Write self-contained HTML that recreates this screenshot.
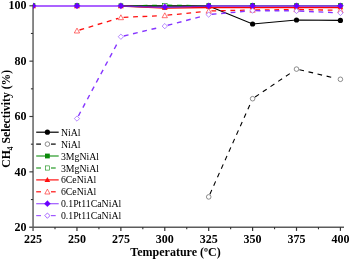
<!DOCTYPE html>
<html lang="en"><head><meta charset="utf-8"><title>CH4 Selectivity vs Temperature</title>
<style>html,body{margin:0;padding:0;background:#fff}body{width:350px;height:260px;overflow:hidden}</style></head>
<body>
<svg width="350" height="260" viewBox="0 0 350 260" style="display:block">
<rect width="350" height="260" fill="#fff"/>
<line x1="33.05" y1="4.6" x2="33.05" y2="230.9" stroke="#5c5c5c" stroke-width="1.45"/>
<line x1="29.2" y1="227.2" x2="344" y2="227.2" stroke="#5c5c5c" stroke-width="1.45"/>
<clipPath id="c"><rect x="32.9" y="0" width="317.1" height="226"/></clipPath>
<g clip-path="url(#c)">
<polyline points="120.9,6.0 164.8,5.9 208.7,6.0" fill="none" stroke="#000" stroke-width="1.4"/>
<polyline points="208.7,6.0 252.6,24.0 296.5,20.0 340.4,20.4" fill="none" stroke="#000" stroke-width="1.15"/>
<circle cx="252.6" cy="24.0" r="2.6" fill="#000"/>
<circle cx="296.5" cy="20.0" r="2.6" fill="#000"/>
<circle cx="340.4" cy="20.4" r="2.6" fill="#000"/>
<path d="M209.9 194.2L211.8 189.9M213.7 185.7L215.6 181.4M217.5 177.2L219.4 172.9M221.3 168.7L223.2 164.4M225.1 160.2L227.0 155.9M228.9 151.7L230.8 147.4M232.7 143.2L234.6 138.9M236.5 134.7L238.4 130.4M240.3 126.2L242.2 122.0M244.1 117.8L246.0 113.5M247.9 109.3L249.8 105.0M255.1 97.0L259.0 94.4M262.8 91.8L266.7 89.2M270.5 86.6L274.4 84.0M278.2 81.4L282.1 78.8M285.9 76.2L289.8 73.6M299.4 69.8L304.0 70.8M308.5 71.9L313.1 72.9M317.5 74.0L322.1 75.1M326.6 76.1L331.2 77.2" fill="none" stroke="#000" stroke-width="1.1"/>
<circle cx="208.7" cy="196.9" r="2.3000000000000003" fill="#fff" stroke="#444" stroke-width="0.6"/>
<circle cx="252.6" cy="98.7" r="2.3000000000000003" fill="#fff" stroke="#444" stroke-width="0.6"/>
<circle cx="296.5" cy="69.1" r="2.3000000000000003" fill="#fff" stroke="#444" stroke-width="0.6"/>
<circle cx="340.4" cy="79.3" r="2.3000000000000003" fill="#fff" stroke="#444" stroke-width="0.6"/>
<polyline points="120.9,6.0 164.8,7.6 208.7,5.8 252.6,5.8 296.5,5.8 340.4,5.8" fill="none" stroke="#008a00" stroke-width="1.2"/>
<rect x="30.7" y="3.2" width="4.6" height="4.6" fill="#0a8a0a"/>
<rect x="74.7" y="3.2" width="4.6" height="4.6" fill="#0a8a0a"/>
<rect x="118.6" y="3.4" width="4.6" height="4.6" fill="#0a8a0a"/>
<rect x="162.5" y="5.1" width="4.6" height="4.6" fill="#0a8a0a"/>
<rect x="206.4" y="3.2" width="4.6" height="4.6" fill="#0a8a0a"/>
<rect x="250.3" y="3.0" width="4.6" height="4.6" fill="#0a8a0a"/>
<rect x="294.2" y="3.2" width="4.6" height="4.6" fill="#0a8a0a"/>
<rect x="338.1" y="3.1" width="4.6" height="4.6" fill="#0a8a0a"/>
<path d="M123.6 5.9L128.4 5.8M133.1 5.7L137.9 5.7M142.6 5.6L147.4 5.5M152.1 5.4L156.9 5.3M167.5 5.2L172.3 5.3M177.0 5.4L181.8 5.4M186.5 5.5L191.3 5.6M196.0 5.7L200.8 5.8" fill="none" stroke="#008a00" stroke-width="1.3"/>
<rect x="162.5" y="3.3" width="4.6000000000000005" height="4.6000000000000005" fill="#fff" stroke="#0a8a0a" stroke-width="0.6"/>
<polyline points="120.9,6.0 164.8,8.1 208.7,7.5 252.6,7.5 296.5,7.5 340.4,7.5" fill="none" stroke="#ff0000" stroke-width="1.3"/>
<polygon points="33.0,3.2 30.2,8.2 35.9,8.2" fill="#ff1010"/>
<polygon points="77.0,3.2 74.1,8.2 79.8,8.2" fill="#ff1010"/>
<polygon points="120.9,3.2 118.0,8.2 123.7,8.2" fill="#ff1010"/>
<polygon points="164.8,4.8 161.9,9.8 167.6,9.8" fill="#ff1010"/>
<polygon points="208.7,3.8 205.8,8.8 211.5,8.8" fill="#ff1010"/>
<polygon points="252.6,4.2 249.7,9.2 255.4,9.2" fill="#ff1010"/>
<polygon points="296.5,4.2 293.7,9.2 299.4,9.2" fill="#ff1010"/>
<polygon points="340.4,4.2 337.6,9.2 343.3,9.2" fill="#ff1010"/>
<path d="M79.5 30.0L84.1 28.6M88.6 27.3L93.2 25.9M97.7 24.5L102.3 23.1M106.8 21.8L111.4 20.4M115.9 19.0L118.3 18.3M123.6 17.4L128.4 17.2M133.1 16.9L137.9 16.7M142.5 16.5L147.3 16.3M152.0 16.1L156.8 15.9M167.5 15.2L172.2 14.7M176.9 14.3L181.7 13.8M186.4 13.3L191.1 12.8M195.8 12.3L200.6 11.8M211.4 10.9L216.2 10.8M220.9 10.7L225.7 10.6M230.4 10.5L235.2 10.4M239.9 10.3L244.7 10.2M255.3 10.0L260.1 9.9M264.8 9.9L269.6 9.8M274.3 9.8L279.1 9.7M283.8 9.6L288.6 9.6M299.2 9.5L304.0 9.6M308.7 9.7L313.5 9.8M318.2 9.9L323.0 10.0M327.7 10.1L332.5 10.2" fill="none" stroke="#ff1010" stroke-width="1.35"/>
<polygon points="77.0,28.1 74.3,33.0 79.6,33.0" fill="#fff" stroke="#ff1010" stroke-width="0.6"/>
<polygon points="120.9,14.8 118.2,19.7 123.5,19.7" fill="#fff" stroke="#ff1010" stroke-width="0.6"/>
<polygon points="164.8,12.8 162.1,17.7 167.4,17.7" fill="#fff" stroke="#ff1010" stroke-width="0.6"/>
<polygon points="208.7,8.3 206.0,13.2 211.3,13.2" fill="#fff" stroke="#ff1010" stroke-width="0.6"/>
<polygon points="252.6,7.3 249.9,12.2 255.2,12.2" fill="#fff" stroke="#ff1010" stroke-width="0.6"/>
<polygon points="296.5,6.8 293.9,11.7 299.2,11.7" fill="#fff" stroke="#ff1010" stroke-width="0.6"/>
<polygon points="340.4,7.6 337.8,12.5 343.1,12.5" fill="#fff" stroke="#ff1010" stroke-width="0.6"/>
<polyline points="33.0,6.0 77.0,6.0 120.9,6.0 164.8,7.4 208.7,6.0 252.6,6.0 296.5,6.0 340.4,6.0" fill="none" stroke="#9030ff" stroke-width="1.32"/>
<polyline points="120.9,6.0 164.8,6.2 208.7,6.0" fill="none" stroke="#000" stroke-width="1.0" stroke-opacity="0.45"/>
<polygon points="33.0,2.7 36.1,5.8 33.0,8.9 29.9,5.8" fill="#6a00ff" stroke="#6a00ff" stroke-width="0.3" stroke-linejoin="round"/>
<polygon points="77.0,2.7 80.1,5.8 77.0,8.9 73.9,5.8" fill="#6a00ff" stroke="#6a00ff" stroke-width="0.3" stroke-linejoin="round"/>
<polygon points="120.9,2.7 124.0,5.8 120.9,8.9 117.8,5.8" fill="#6a00ff" stroke="#6a00ff" stroke-width="0.3" stroke-linejoin="round"/>
<polygon points="164.8,3.7 167.9,6.8 164.8,9.9 161.7,6.8" fill="#6a00ff" stroke="#6a00ff" stroke-width="0.3" stroke-linejoin="round"/>
<polygon points="208.7,2.7 211.8,5.8 208.7,8.9 205.6,5.8" fill="#6a00ff" stroke="#6a00ff" stroke-width="0.3" stroke-linejoin="round"/>
<polygon points="252.6,2.7 255.7,5.8 252.6,8.9 249.5,5.8" fill="#6a00ff" stroke="#6a00ff" stroke-width="0.3" stroke-linejoin="round"/>
<polygon points="296.5,2.7 299.6,5.8 296.5,8.9 293.4,5.8" fill="#6a00ff" stroke="#6a00ff" stroke-width="0.3" stroke-linejoin="round"/>
<polygon points="340.4,2.7 343.5,5.8 340.4,8.9 337.3,5.8" fill="#6a00ff" stroke="#6a00ff" stroke-width="0.3" stroke-linejoin="round"/>
<path d="M78.4 116.0L80.6 111.7M82.9 107.6L85.1 103.4M87.4 99.2L89.6 95.0M91.8 90.8L94.1 86.6M96.3 82.5L98.6 78.2M100.8 74.1L103.1 69.9M105.3 65.7L107.6 61.5M109.8 57.3L112.1 53.1M114.3 49.0L116.6 44.7M123.8 36.0L128.5 34.9M133.0 33.8L137.7 32.6M142.3 31.5L146.9 30.4M151.5 29.3L156.2 28.2M167.7 25.3L172.3 24.1M176.9 22.9L181.5 21.7M186.1 20.5L190.7 19.3M195.3 18.1L199.9 16.9M211.7 14.3L216.5 13.9M221.1 13.5L225.9 13.0M230.6 12.6L235.4 12.2M240.1 11.7L244.8 11.3M255.6 10.6L260.4 10.7M265.1 10.7L269.9 10.7M274.6 10.8L279.4 10.8M284.1 10.8L288.9 10.8M299.5 11.0L304.3 11.3M309.0 11.5L313.8 11.7M318.5 11.9L323.3 12.1M328.0 12.3L332.8 12.6" fill="none" stroke="#8636ff" stroke-width="1.4"/>
<polygon points="77.0,115.9 79.6,118.6 77.0,121.2 74.3,118.6" fill="#fff" stroke="#8a40ff" stroke-width="0.6"/>
<polygon points="120.9,34.1 123.5,36.7 120.9,39.4 118.2,36.7" fill="#fff" stroke="#8a40ff" stroke-width="0.6"/>
<polygon points="164.8,23.5 167.4,26.1 164.8,28.8 162.1,26.1" fill="#fff" stroke="#8a40ff" stroke-width="0.6"/>
<polygon points="208.7,11.9 211.3,14.6 208.7,17.2 206.0,14.6" fill="#fff" stroke="#8a40ff" stroke-width="0.6"/>
<polygon points="252.6,7.9 255.2,10.6 252.6,13.2 249.9,10.6" fill="#fff" stroke="#8a40ff" stroke-width="0.6"/>
<polygon points="296.5,8.2 299.2,10.9 296.5,13.6 293.9,10.9" fill="#fff" stroke="#8a40ff" stroke-width="0.6"/>
<polygon points="340.4,10.2 343.1,12.9 340.4,15.6 337.8,12.9" fill="#fff" stroke="#8a40ff" stroke-width="0.6"/>
</g>
<line x1="55.00" y1="227.1" x2="55.00" y2="229.3" stroke="#333" stroke-width="1.1"/>
<line x1="76.96" y1="227.1" x2="76.96" y2="230.9" stroke="#333" stroke-width="1.2"/>
<line x1="98.91" y1="227.1" x2="98.91" y2="229.3" stroke="#333" stroke-width="1.1"/>
<line x1="120.87" y1="227.1" x2="120.87" y2="230.9" stroke="#333" stroke-width="1.2"/>
<line x1="142.82" y1="227.1" x2="142.82" y2="229.3" stroke="#333" stroke-width="1.1"/>
<line x1="164.78" y1="227.1" x2="164.78" y2="230.9" stroke="#333" stroke-width="1.2"/>
<line x1="186.74" y1="227.1" x2="186.74" y2="229.3" stroke="#333" stroke-width="1.1"/>
<line x1="208.69" y1="227.1" x2="208.69" y2="230.9" stroke="#333" stroke-width="1.2"/>
<line x1="230.64" y1="227.1" x2="230.64" y2="229.3" stroke="#333" stroke-width="1.1"/>
<line x1="252.60" y1="227.1" x2="252.60" y2="230.9" stroke="#333" stroke-width="1.2"/>
<line x1="274.56" y1="227.1" x2="274.56" y2="229.3" stroke="#333" stroke-width="1.1"/>
<line x1="296.51" y1="227.1" x2="296.51" y2="230.9" stroke="#333" stroke-width="1.2"/>
<line x1="318.46" y1="227.1" x2="318.46" y2="229.3" stroke="#333" stroke-width="1.1"/>
<line x1="340.42" y1="227.1" x2="340.42" y2="230.9" stroke="#333" stroke-width="1.2"/>
<line x1="29.4" y1="5.80" x2="33.05" y2="5.80" stroke="#3a3a3a" stroke-width="1.15"/>
<line x1="30.9" y1="33.48" x2="33.05" y2="33.48" stroke="#333" stroke-width="1.1"/>
<line x1="29.4" y1="61.15" x2="33.05" y2="61.15" stroke="#3a3a3a" stroke-width="1.15"/>
<line x1="30.9" y1="88.83" x2="33.05" y2="88.83" stroke="#333" stroke-width="1.1"/>
<line x1="29.4" y1="116.50" x2="33.05" y2="116.50" stroke="#3a3a3a" stroke-width="1.15"/>
<line x1="30.9" y1="144.18" x2="33.05" y2="144.18" stroke="#333" stroke-width="1.1"/>
<line x1="29.4" y1="171.85" x2="33.05" y2="171.85" stroke="#3a3a3a" stroke-width="1.15"/>
<line x1="30.9" y1="199.53" x2="33.05" y2="199.53" stroke="#333" stroke-width="1.1"/>
<g font-family="'Liberation Serif', 'Times New Roman', serif" font-weight="bold" font-size="12" fill="#000">
<text x="33.0" y="243.4" text-anchor="middle">225</text>
<text x="77.0" y="243.4" text-anchor="middle">250</text>
<text x="120.9" y="243.4" text-anchor="middle">275</text>
<text x="164.8" y="243.4" text-anchor="middle">300</text>
<text x="208.7" y="243.4" text-anchor="middle">325</text>
<text x="252.6" y="243.4" text-anchor="middle">350</text>
<text x="296.5" y="243.4" text-anchor="middle">375</text>
<text x="340.4" y="243.4" text-anchor="middle">400</text>
<text x="26.4" y="9.2" text-anchor="end">100</text>
<text x="26.4" y="65.0" text-anchor="end">80</text>
<text x="26.4" y="120.3" text-anchor="end">60</text>
<text x="26.4" y="175.7" text-anchor="end">40</text>
<text x="26.4" y="231.0" text-anchor="end">20</text>
<text x="175.5" y="256.4" text-anchor="middle">Temperature (ºC)</text>
<text transform="translate(10.1 118.8) rotate(-90)" text-anchor="middle" font-size="11.7">CH<tspan font-size="7.5" dy="2.5">4</tspan><tspan dy="-2.5"> Selectivity (%)</tspan></text>
</g>
<g font-family="'Liberation Serif', 'Times New Roman', serif" font-size="9.8" fill="#000">
<line x1="36.2" y1="132.2" x2="58.7" y2="132.2" stroke="#000" stroke-width="1.2"/>
<circle cx="47.4" cy="132.2" r="2.6" fill="#000"/>
<text x="60.9" y="135.7">NiAl</text>
<line x1="36.2" y1="144.1" x2="41" y2="144.1" stroke="#000" stroke-width="1.2"/>
<line x1="51.0" y1="144.1" x2="55.7" y2="144.1" stroke="#000" stroke-width="1.2"/>
<circle cx="47.4" cy="144.1" r="2.3000000000000003" fill="#fff" stroke="#444" stroke-width="0.6"/>
<text x="60.9" y="147.6">NiAl</text>
<line x1="36.2" y1="156.0" x2="58.7" y2="156.0" stroke="#259a25" stroke-width="1.2"/>
<rect x="45.0" y="153.6" width="4.8" height="4.8" fill="#0a8a0a"/>
<text x="60.9" y="159.5">3MgNiAl</text>
<line x1="36.2" y1="168.0" x2="41" y2="168.0" stroke="#259a25" stroke-width="1.2"/>
<line x1="51.0" y1="168.0" x2="55.7" y2="168.0" stroke="#259a25" stroke-width="1.2"/>
<rect x="45.3" y="165.9" width="4.2" height="4.2" fill="#fff" stroke="#0a8a0a" stroke-width="0.6"/>
<text x="60.9" y="171.5">3MgNiAl</text>
<line x1="36.2" y1="179.9" x2="58.7" y2="179.9" stroke="#ff1010" stroke-width="1.2"/>
<polygon points="47.4,177.1 44.5,182.1 50.2,182.1" fill="#ff1010"/>
<text x="60.9" y="183.4">6CeNiAl</text>
<line x1="36.2" y1="191.8" x2="41" y2="191.8" stroke="#ff1010" stroke-width="1.2"/>
<line x1="51.0" y1="191.8" x2="55.7" y2="191.8" stroke="#ff1010" stroke-width="1.2"/>
<polygon points="47.4,189.1 44.8,194.0 50.0,194.0" fill="#fff" stroke="#ff1010" stroke-width="0.6"/>
<text x="60.9" y="195.3">6CeNiAl</text>
<line x1="36.2" y1="203.7" x2="58.7" y2="203.7" stroke="#9f58ff" stroke-width="1.2"/>
<polygon points="47.4,200.6 50.5,203.7 47.4,206.8 44.3,203.7" fill="#6a00ff" stroke="#6a00ff" stroke-width="0.3" stroke-linejoin="round"/>
<text x="60.9" y="207.2">0.1Pt11CaNiAl</text>
<line x1="36.2" y1="215.6" x2="41" y2="215.6" stroke="#9f58ff" stroke-width="1.2"/>
<line x1="51.0" y1="215.6" x2="55.7" y2="215.6" stroke="#9f58ff" stroke-width="1.2"/>
<polygon points="47.4,213.0 50.0,215.6 47.4,218.3 44.8,215.6" fill="#fff" stroke="#6a00ff" stroke-width="0.6"/>
<text x="60.9" y="219.1">0.1Pt11CaNiAl</text>
</g>
</svg>
</body></html>
